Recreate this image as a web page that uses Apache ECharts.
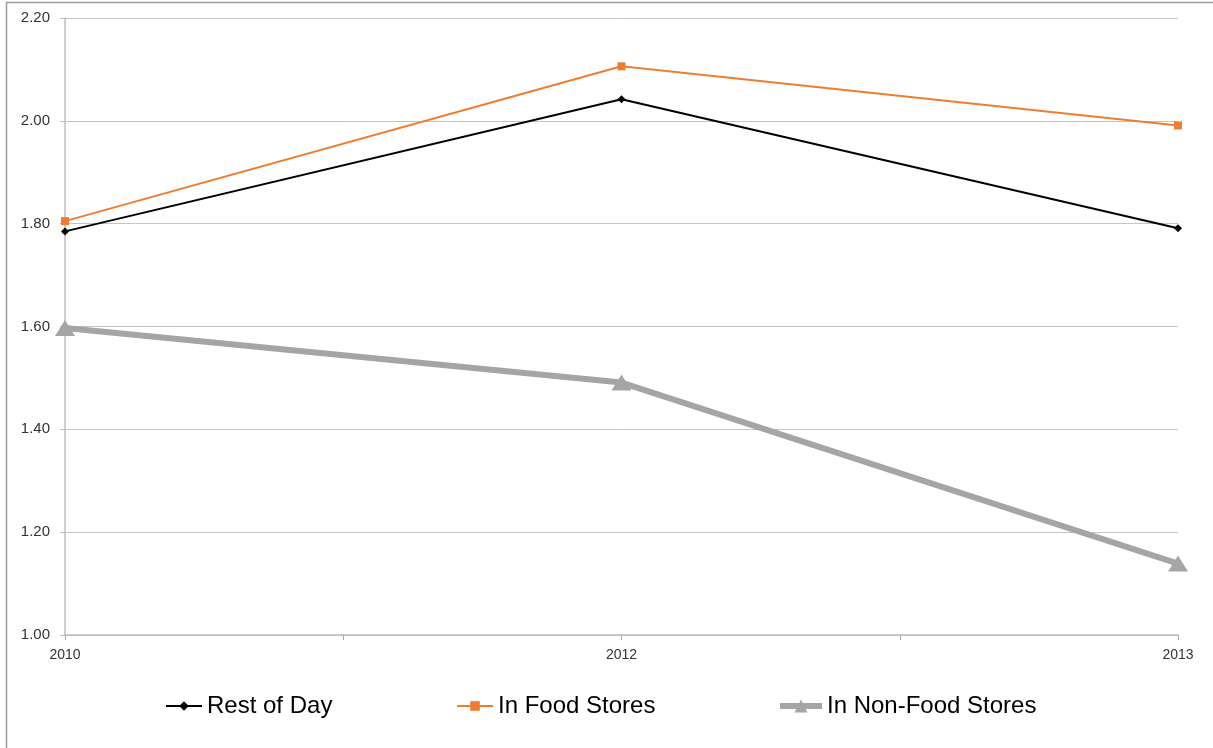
<!DOCTYPE html>
<html>
<head>
<meta charset="utf-8">
<script src="https://cdn.jsdelivr.net/npm/echarts@6/dist/echarts.min.js"></script>
<style>
  html, body { margin: 0; padding: 0; background: #fff; }
  #chart { width: 1213px; height: 748px; }
</style>
</head>
<body>
<div id="chart"></div>
<script>
// Survey years shown along the horizontal axis
const years = ['2010', '2012', '2013'];

// Average values per year
const restOfDay = [1.785, 2.042, 1.791];
const inFoodStores = [1.805, 2.106, 1.991];
const inNonFoodStores = [1.597, 1.491, 1.139];

// Vertical axis range
const yMin = 1.0;
const yMax = 2.2;
const yStep = 0.2;

const seriesNames = ['Rest of Day', 'In Food Stores', 'In Non-Food Stores'];

// Pair each value with its year position (0, 1, 2) on a numeric x axis,
// which lets the axis place a minor tick halfway between the years.
const toPoints = vals => vals.map((v, i) => [i, v]);

const chart = echarts.init(document.getElementById('chart'), null, { renderer: 'canvas' });

const legendText = { fontFamily: 'Liberation Sans', fontSize: 24, color: '#000' };

chart.setOption({
  animation: false,
  backgroundColor: '#fff',
  grid: { left: 65, right: 35, top: 18, bottom: 113, containLabel: false },
  graphic: [
    { type: 'line', shape: { x1: 6, y1: 2.5, x2: 1213, y2: 2.5 }, style: { stroke: '#9a9a9a', lineWidth: 1.5 } },
    { type: 'line', shape: { x1: 6.5, y1: 2, x2: 6.5, y2: 748 }, style: { stroke: '#9a9a9a', lineWidth: 1.5 } }
  ],
  legend: [
    {
      left: 160, top: 689, itemWidth: 36, itemHeight: 12, selectedMode: false,
      textStyle: legendText, data: [seriesNames[0]]
    },
    {
      left: 451, top: 689, itemWidth: 36, itemHeight: 12, selectedMode: false,
      textStyle: legendText, data: [seriesNames[1]]
    },
    {
      left: 772, top: 689, itemWidth: 42, itemHeight: 16, selectedMode: false,
      textStyle: legendText, lineStyle: { width: 6 }, data: [seriesNames[2]]
    }
  ],
  xAxis: {
    type: 'value',
    min: 0,
    max: years.length - 1,
    interval: 0.5,
    axisLine: { show: true, lineStyle: { color: '#bfbfbf', width: 1.5 } },
    axisTick: { show: true, inside: false, length: 5, lineStyle: { color: '#a6a6a6' } },
    splitLine: { show: false },
    axisLabel: {
      fontFamily: 'Liberation Sans',
      fontSize: 14,
      color: '#333',
      margin: 13,
      formatter: v => (Number.isInteger(v) ? years[v] : '')
    }
  },
  yAxis: {
    type: 'value',
    min: yMin,
    max: yMax,
    interval: yStep,
    axisLine: { show: true, lineStyle: { color: '#bfbfbf', width: 1.5 } },
    axisTick: { show: true, length: 5, lineStyle: { color: '#bfbfbf' } },
    splitLine: { show: true, lineStyle: { color: '#c4c4c4', width: 1 } },
    axisLabel: {
      fontFamily: 'Liberation Sans',
      fontSize: 15,
      color: '#333',
      margin: 15,
      formatter: v => v.toFixed(2)
    }
  },
  series: [
    {
      name: seriesNames[0],
      type: 'line',
      data: toPoints(restOfDay),
      symbol: 'diamond',
      symbolSize: 8,
      lineStyle: { color: '#000', width: 2 },
      itemStyle: { color: '#000' },
      z: 3
    },
    {
      name: seriesNames[1],
      type: 'line',
      data: toPoints(inFoodStores),
      symbol: 'rect',
      symbolSize: 8,
      lineStyle: { color: '#ed7d31', width: 2 },
      itemStyle: { color: '#ed7d31' },
      z: 3
    },
    {
      name: seriesNames[2],
      type: 'line',
      data: toPoints(inNonFoodStores),
      symbol: 'triangle',
      symbolSize: [20, 16],
      lineStyle: { color: '#a5a5a5', width: 6 },
      itemStyle: { color: '#a5a5a5' },
      z: 2
    }
  ]
});
</script>
</body>
</html>
